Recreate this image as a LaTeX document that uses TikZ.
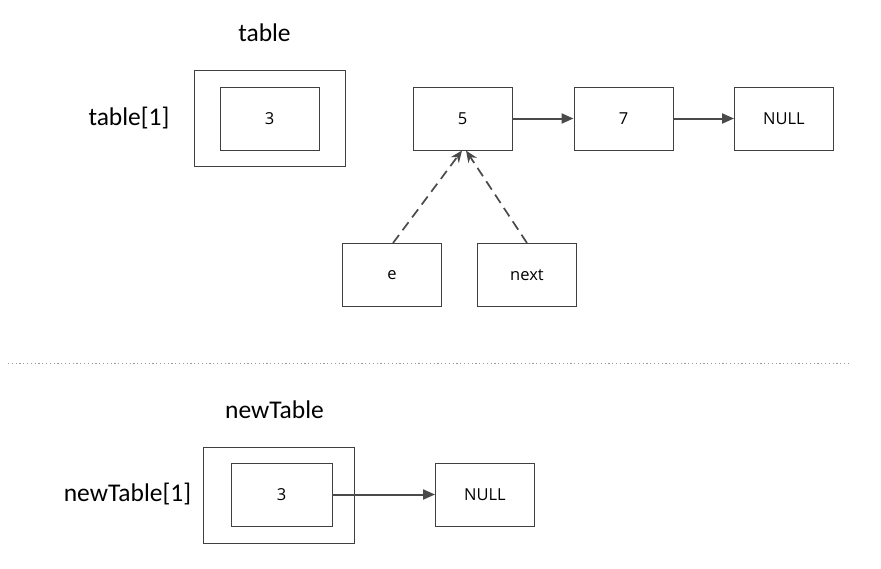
\documentclass[tikz,border=0pt]{standalone}
\usepackage{fontspec}
\setmainfont{Open Sans}
\newfontfamily\lblfont{Carlito}
\usetikzlibrary{arrows.meta}
\definecolor{ln}{HTML}{404040}
\definecolor{ar}{HTML}{4A4A4A}
\tikzset{
  box/.style={draw=ln, line width=0.9pt, minimum width=99pt, minimum height=63pt, inner sep=0pt, font=\fontsize{16.5}{19}\selectfont},
  outerbox/.style={draw=ln, line width=0.9pt, inner sep=0pt},
  lbl/.style={font=\lblfont\fontsize{25.5}{28}\selectfont, inner sep=0pt},
  arr/.style={draw=ar, line width=2pt, -{Triangle[length=12pt,width=10pt]}},
  darr/.style={draw=ar, line width=1.7pt, dash pattern=on 10pt off 6pt, -{Stealth[length=12pt,width=10pt]}},
}
\begin{document}
\begin{tikzpicture}[x=1pt,y=-1pt]
\useasboundingbox (0,0) rectangle (881,568);
% top
\node[lbl] (tlabel) at (264.5,33) {table};
\node[lbl] (t1label) at (129,118) {table[1]};
\node[outerbox, minimum width=151pt, minimum height=96pt] (touter) at (269.5,118) {};
\node[box] (t3) at (269.5,118.5) {3};
\node[box] (n5) at (462.5,118.5) {5};
\node[box] (n7) at (623.5,118.5) {7};
\node[box] (nnull) at (784,118.5) {NULL};
\node[box] (ne) at (392,275) {e};
\node[box] (nnext) at (527,275) {next};
\draw[arr] (n5) -- (n7);
\draw[arr] (n7) -- (nnull);
\draw[darr] (ne.north) ++(1,0) coordinate (es) (es) -- (462,150.5);
\draw[darr] (nnext.north) -- (466,150.5);
% separator
\coordinate (sepl) at (8,363);
\coordinate (sepr) at (848,363);
\draw[gray!80, line width=0.8pt, dash pattern=on 1.2pt off 2.6pt] (sepl) -- (sepr);
% bottom
\node[lbl] (nlabel) at (274.5,410) {newTable};
\node[lbl] (n1label) at (127.5,494) {newTable[1]};
\node[outerbox, minimum width=151pt, minimum height=96pt] (bouter) at (278.5,495) {};
\node[box, minimum width=101pt] (b3) at (281.5,494.5) {3};
\node[box] (bnull) at (485,494.5) {NULL};
\draw[arr] (b3) -- (bnull);
\end{tikzpicture}
\end{document}
